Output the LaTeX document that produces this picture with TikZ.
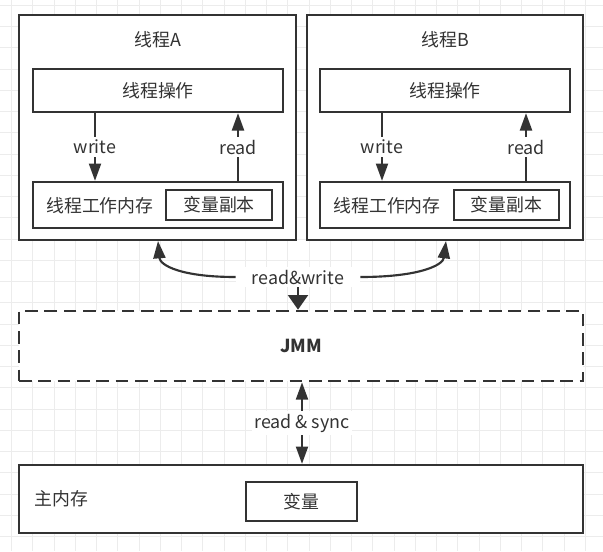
\documentclass[tikz,border=0pt]{standalone}
\usepackage{fontspec}
\setmainfont{Noto Sans CJK SC}
\usetikzlibrary{arrows.meta,fit}
\definecolor{ink}{HTML}{333333}
\definecolor{gridc}{HTML}{ECECEC}
\begin{document}
\begin{tikzpicture}[x=0.75pt,y=-0.75pt,
  font=\fontsize{13.4pt}{16pt}\selectfont, text=ink,
  box/.style={draw=ink, line width=1.75pt, fill=white, inner sep=0pt},
  dbox/.style={draw=ink, line width=2pt, fill=white, inner sep=0pt, dash pattern=on 9.5pt off 5pt},
  txt/.style={inner sep=1pt},
  lbl/.style={fill=white, inner sep=2pt},
  arr/.style={draw=ink, line width=1.6pt, -{Triangle[length=13pt,width=9pt]}},
  arrw/.style={draw=ink, line width=1.6pt, -{Triangle[length=11pt,width=15pt]}},
  arrb/.style={draw=ink, line width=1.6pt, {Triangle[length=13pt,width=9pt]}-{Triangle[length=13pt,width=9pt]}}]
\useasboundingbox (0,0) rectangle (603,551);
\fill[white] (0,0) rectangle (603,551);
% grid
\foreach \i in {0,...,28} {
  \draw[gridc, line width=0.75pt] (11.7+21.25*\i,0) -- (11.7+21.25*\i,551);
}
\foreach \j in {0,...,25} {
  \draw[gridc, line width=0.75pt] (0,5.4+21.25*\j) -- (603,5.4+21.25*\j);
}
% Thread A
\node[box, fit={(19,15) (296,240)}] (A) {};
\node[txt] (Atitle) at (158,40) {线程A};
\node[box, fit={(33,69) (283,112)}] (Aop) {};
\node[txt] (Aoptxt) at (Aop.center) {线程操作};
\node[box, fit={(33,182) (283,228)}] (Amem) {};
\node[txt] (Amemtxt) at (100,206) {线程工作内存};
\node[box, fit={(166,190) (272,220)}] (Avar) {};
\node[txt] (Avartxt) at (Avar.center) {变量副本};
\coordinate (Aw) at (95,0);
\coordinate (Ar) at (238,0);
\draw[arr] (Aop.south -| Aw) -- node[lbl] (Awl) {write} (Amem.north -| Aw);
\draw[arr] (Amem.north -| Ar) -- node[lbl] (Arl) {read} (Aop.south -| Ar);
% Thread B
\node[box, fit={(307,15) (583,240)}] (B) {};
\node[txt] (Btitle) at (445,40) {线程B};
\node[box, fit={(320,69) (570,112)}] (Bop) {};
\node[txt] (Boptxt) at (Bop.center) {线程操作};
\node[box, fit={(320,182) (570,228)}] (Bmem) {};
\node[txt] (Bmemtxt) at (387,206) {线程工作内存};
\node[box, fit={(454,190) (559,220)}] (Bvar) {};
\node[txt] (Bvartxt) at (Bvar.center) {变量副本};
\coordinate (Bw) at (382,0);
\coordinate (Br) at (526,0);
\draw[arr] (Bop.south -| Bw) -- node[lbl] (Bwl) {write} (Bmem.north -| Bw);
\draw[arr] (Bmem.north -| Br) -- node[lbl] (Brl) {read} (Bop.south -| Br);
% JMM
\node[dbox, fit={(19,311) (583,381)}] (JMM) {};
\node[txt, font=\fontsize{13.4pt}{16pt}\selectfont\bfseries] (JMMtxt) at (JMM.center) {JMM};
% read&write
\node[fill=white, inner xsep=12pt, inner ysep=2pt] (rw) at (298,277) {read\&write};
\coordinate (Atip) at (158,241);
\coordinate (Btip) at (446,241);
\draw[arrw] (rw.south) -- (JMM.north -| rw.south);
\draw[arr] (rw.west) .. controls (180,277) and (160,265) .. (Atip);
\draw[arr] (rw.east) .. controls (420,277) and (443,265) .. (Btip);
% main memory
\node[box, fit={(19,465) (583,533)}] (Main) {};
\node[txt, anchor=west] (Maintxt) at (33,499) {主内存};
\node[box, fit={(246,482) (357,521)}] (Var) {};
\node[txt] (Vartxt) at (Var.center) {变量};
\coordinate (Sx) at (302,0);
\draw[arrb] (JMM.south -| Sx) -- node[lbl] (rs) {read \& sync} (Main.north -| Sx);
\end{tikzpicture}
\end{document}
